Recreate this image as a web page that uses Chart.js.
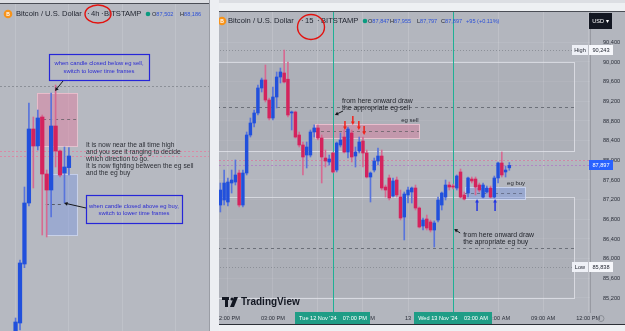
<!DOCTYPE html>
<html>
<head>
<meta charset="utf-8">
<title>BTCUSD 4h / 15m</title>
<script src="https://cdn.jsdelivr.net/npm/chart.js@4.4.1/dist/chart.umd.min.js"></script>
<style>
  body { margin: 0; width: 625px; height: 331px; background: #eef0f3; position: relative; overflow: hidden; }
  canvas { position: absolute; display: block; }
  #leftChart { left: 0; top: 3px; background: #b6b9c1; }
  #rightChart { left: 211px; top: 12px; background: #b3b6be; }
  .strip { position: absolute; }
</style>
</head>
<body>
<div class="strip" style="left:0;top:0;width:625px;height:3px;background:#dcdee3"></div>
<canvas id="leftChart" width="209" height="328"></canvas>
<canvas id="rightChart" width="414" height="312"></canvas>
<div class="strip" style="left:209px;top:0;width:9px;height:331px;background:#eceef2;border-left:1px solid #9a9da5"></div>
<div class="strip" style="left:0;top:3px;width:209px;height:1px;background:#4a4d55"></div>
<div class="strip" style="left:219px;top:11px;width:406px;height:1px;background:#4a4d55"></div>
<div class="strip" style="left:219px;top:324px;width:406px;height:1px;background:#2c2f36"></div>
<script>
/* ---- data: 15m chart (right) ---- */
const rFirstSlot = 2;
const rOpen = [87091,87193,87152,87539,87559,87742,87091,87742,88515,88759,88963,89471,89634,89227,88861,89288,89695,89776,89650,88963,
  88983,88515,88312,88108,88108,88576,88658,88454,88047,87966,88149,87803,88312,88474,88169,88556,88088,88190,88393,88149,
  87661,87803,87986,88088,87457,87641,87274,87600,87254,86847,87295,87356,87437,87030,86664,86807,86746,86583,86786,87091,
  87254,87498,87478,87437,87763,87295,87335,87620,87620,87498,87254,87356,87437,87254,87641,87946,87763,87847];
const rHigh = [87539,87803,87641,87803,88007,87803,87803,88576,88861,89024,89532,89674,89939,89268,89491,89797,89878,90243,90000,89003,
  89003,88576,88373,88373,88617,88719,88719,88515,88210,88108,88169,88373,88556,88617,88678,88617,88271,88474,88474,88210,
  87763,88047,88251,88210,87498,87702,87641,87661,87396,87356,87457,87457,87498,87051,86827,86888,86786,86766,87254,87356,
  87600,87559,87518,87702,87824,87356,87661,87661,87661,87539,87539,87478,87478,87681,87966,88169,87885,87955];
const rLow = [86949,87091,87071,87335,87498,87051,87051,87702,88474,88678,88922,89390,89186,88820,88820,89064,89573,89573,88881,88617,
  88454,88271,87702,87844,88068,88474,88413,87539,87864,87905,87742,87763,88271,88149,88047,87966,87864,88149,87864,87641,
  87152,87763,87905,87396,87254,87193,87254,87254,86786,86380,87132,87132,86990,86624,86583,86583,86542,86237,86746,86990,
  87193,87396,87417,87396,87234,87193,87254,87539,87295,87356,87234,87335,87234,87234,87539,87661,87661,87797];
const rClose = [87396,87539,87559,87600,87702,87091,87742,88515,88759,88963,89471,89634,89227,88861,89288,89695,89797,89593,88922,88983,
  88474,88312,88068,88271,88576,88658,88454,88068,87986,88027,87763,88352,88413,88169,88637,88068,88169,88373,88149,87661,
  87742,87986,88088,87437,87396,87234,87580,87295,86827,87315,87396,87437,87030,86644,86786,86624,86583,86725,87193,87335,
  87498,87457,87457,87681,87254,87213,87641,87580,87457,87396,87498,87437,87254,87641,87946,87702,87803,87897];
const rTickSlots = [4, 16, 28, 40, 52, 64, 76, 88, 100];
const rTickText = ['12:00 PM', '03:00 PM', '06:00 PM', '09:00 PM', '13', '03:00 AM', '06:00 AM', '09:00 AM', '12:00 PM'];
const rPriceTicks = [85200, 85600, 86000, 86400, 86800, 87200, 87600, 88000, 88400, 88800, 89200, 89600, 90000, 90400];
const rYMin = 84915, rYMax = 91017;

/* drawings on the 15m chart: [slotFrom, slotTo, priceTop, priceBottom] */
const rZones = [[-1, 96.3, 90000, 88190], [-1, 96.3, 87254, 85200]];
const rDashLevels = [89085, 86217];
const rHighMark = 90243, rLowMark = 85838, rLastPrice = 87897, rRoundLevel = 88000;
const rSellBox = [27.2, 54.9, 88740, 88454, 88597];
const rBuyBox = [67.2, 83.2, 87457, 87213, 87335];
const rMarkSlots = [32, 64];
const rMarkText = ["Tue 12 Nov '24    07:00 PM", "Wed 13 Nov '24    03:00 AM"];
const rSellArrows = [[35.2, 88617], [37.3, 88719], [38.9, 88617], [40.3, 88515]];
const rBuyArrows = [[70.4, 87213], [75.2, 87213]];
const rNotes = [[34.4, 89207, 'from here onward draw', 'the appropriate eg sell'],
                [66.7, 86481, 'from here onward draw', 'the apropriate eg buy']];
const rNoteArrows = [[34.7, 89004, 32.5, 88922], [65.9, 86522, 64.3, 86603]];
const rBoxNames = [['eg sell', 52.5, 88820], ['eg buy', 80.8, 87539]];

/* ---- data: 4h chart (left) ---- */
const lFirstSlot = 3;
const lOpen  = [81800, 82219, 84225, 86299, 88815, 88237, 89223, 87285, 86741, 88917, 88067, 87319, 87502];
const lHigh  = [82389, 84361, 86843, 89699, 89223, 89461, 89291, 87421, 90039, 90311, 88101, 88203, 88186];
const lLow   = [81600, 81981, 84100, 86200, 86809, 88101, 85211, 85143, 85823, 87523, 87183, 86299, 87251];
const lClose = [82253, 84259, 86299, 88815, 88237, 89189, 87285, 86741, 88917, 88067, 87251, 87523, 87897];
const lYMin = 81947, lYMax = 93099;
const lSellZone = [7.8, 16.8, 90039, 88237];
const lBuyZone = [9.8, 16.8, 87285, 85211];
const lSellMid = [9.2, 16.8, 89155];
const lBuyMid = [9.8, 13.4, 86265];
const lPinkLevels = [88060, 87897];
const lTopLevel = 90277;
const lGridSlots = [3, 15, 27, 39];

const FONT = '"Liberation Sans", Arial, sans-serif';
const BLUE = '#2150dc', PINK = '#d4235d', BLUE_W = '#5874dc', PINK_W = '#d66a92';

function slotLabels(startMs, stepMin, count) {
  const out = [];
  for (let i = 0; i < count; i++) {
    out.push(new Date(startMs + i * stepMin * 60000).toISOString().slice(0, 16).replace('T', ' '));
  }
  return out;
}
const rSlots = slotLabels(Date.UTC(2024, 10, 12, 11, 0), 15, 101);
const lSlots = slotLabels(Date.UTC(2024, 10, 10, 16, 0), 240, 47);

function candleSets(open, high, low, close, slots, first, bodyW) {
  const bodies = [], wicks = [], bodyCol = [], wickCol = [];
  for (let k = 0; k < open.length; k++) {
    const x = slots[first + k];
    const up = close[k] >= open[k];
    bodies.push({x: x, y: [open[k], close[k]]});
    wicks.push({x: x, y: [low[k], high[k]]});
    bodyCol.push(up ? BLUE : PINK);
    wickCol.push(up ? BLUE_W : PINK_W);
  }
  return [
    {data: wicks, backgroundColor: wickCol, barThickness: 1, grouped: false, order: 2},
    {data: bodies, backgroundColor: bodyCol, barThickness: bodyW, grouped: false, minBarLength: 1, order: 1}
  ];
}

function label(ctx, s, x, y, size, color, align, weight) {
  ctx.font = (weight || 'normal') + ' ' + size + 'px ' + FONT;
  ctx.fillStyle = color;
  ctx.textAlign = align || 'left';
  ctx.textBaseline = 'middle';
  ctx.fillText(s, x, y);
  return ctx.measureText(s).width;
}
function hline(ctx, x0, x1, yy, color, dash) {
  ctx.save();
  ctx.strokeStyle = color; ctx.lineWidth = 1; ctx.setLineDash(dash || []);
  ctx.beginPath(); ctx.moveTo(x0, Math.round(yy) + 0.5); ctx.lineTo(x1, Math.round(yy) + 0.5); ctx.stroke();
  ctx.restore();
}
function vline(ctx, xx, y0, y1, color) {
  ctx.save();
  ctx.strokeStyle = color; ctx.lineWidth = 1;
  ctx.beginPath(); ctx.moveTo(Math.round(xx) + 0.5, y0); ctx.lineTo(Math.round(xx) + 0.5, y1); ctx.stroke();
  ctx.restore();
}
function box(ctx, x0, x1, y0, y1, fill, stroke) {
  ctx.fillStyle = fill;
  ctx.fillRect(x0, y0, x1 - x0, y1 - y0);
  ctx.strokeStyle = stroke; ctx.lineWidth = 1; ctx.setLineDash([]);
  ctx.strokeRect(Math.round(x0) + 0.5, Math.round(y0) + 0.5, Math.round(x1 - x0), Math.round(y1 - y0));
}
function arrow(ctx, x0, y0, x1, y1, color, w, head) {
  const ang = Math.atan2(y1 - y0, x1 - x0);
  ctx.save();
  ctx.strokeStyle = color; ctx.fillStyle = color; ctx.lineWidth = w; ctx.setLineDash([]);
  ctx.beginPath(); ctx.moveTo(x0, y0);
  ctx.lineTo(x1 - Math.cos(ang) * head * 0.7, y1 - Math.sin(ang) * head * 0.7); ctx.stroke();
  ctx.beginPath(); ctx.moveTo(x1, y1);
  ctx.lineTo(x1 - head * Math.cos(ang - 0.5), y1 - head * Math.sin(ang - 0.5));
  ctx.lineTo(x1 - head * Math.cos(ang + 0.5), y1 - head * Math.sin(ang + 0.5));
  ctx.closePath(); ctx.fill();
  ctx.restore();
}
function ellipse(ctx, cx, cy, rx, ry) {
  ctx.save();
  ctx.strokeStyle = '#e3120f'; ctx.lineWidth = 1.4;
  ctx.beginPath(); ctx.ellipse(cx, cy, rx, ry, 0, 0, Math.PI * 2); ctx.stroke();
  ctx.restore();
}
function coin(ctx, x, y) {
  ctx.fillStyle = '#f7931a';
  ctx.beginPath(); ctx.arc(x, y, 4.3, 0, Math.PI * 2); ctx.fill();
  label(ctx, 'B', x, y + 0.3, 5, '#ffffff', 'center', 'bold');
}
function ohlc(ctx, x, y, parts) {
  parts.forEach(p => {
    let cx = p[0];
    cx += label(ctx, p[1], cx, y, 5.6, '#1e222d');
    label(ctx, p[2], cx, y, 5.6, '#2c50d6');
  });
}

/* ---- overlays on the 15m chart ---- */
const rightOverlay = {
  id: 'rightOverlay',
  beforeDatasetsDraw(chart) {
    const {ctx, chartArea: a} = chart;
    const X = v => chart.scales.x.getPixelForValue(v);
    const Y = v => chart.scales.y.getPixelForValue(v);
    ctx.save();
    ctx.beginPath(); ctx.rect(a.left, a.top, a.width, a.height); ctx.clip();
    rZones.forEach(z => box(ctx, X(z[0]), X(z[1]), Y(z[2]), Y(z[3]), 'rgba(140,144,153,0.16)', 'rgba(228,230,236,0.75)'));
    rDashLevels.forEach(p => hline(ctx, a.left, X(rZones[0][1]), Y(p), '#6c7079', [3, 3]));
    hline(ctx, a.left, a.right, Y(rHighMark), '#8c9098', [1, 2]);
    hline(ctx, a.left, a.right, Y(rLowMark), '#8c9098', [1, 2]);
    hline(ctx, a.left, a.right, Y(rRoundLevel), '#cf86a4', [2, 2]);
    hline(ctx, a.left, a.right, Y(rLastPrice), '#b087c4', [2, 2]);
    box(ctx, X(rSellBox[0]), X(rSellBox[1]), Y(rSellBox[2]), Y(rSellBox[3]), 'rgba(232,112,152,0.38)', 'rgba(240,196,210,0.85)');
    hline(ctx, X(rSellBox[0]), X(rSellBox[1]), Y(rSellBox[4]), '#7a6c76', [3, 3]);
    box(ctx, X(rBuyBox[0]), X(rBuyBox[1]), Y(rBuyBox[2]), Y(rBuyBox[3]), 'rgba(110,145,232,0.38)', 'rgba(205,215,242,0.85)');
    hline(ctx, X(rBuyBox[0]), X(rBuyBox[1]), Y(rBuyBox[4]), '#6a7390', [3, 3]);
    rMarkSlots.forEach(s => vline(ctx, X(s), a.top, a.bottom, '#1fb095'));
    ctx.restore();
  },
  afterDatasetsDraw(chart) {
    const {ctx} = chart;
    const X = v => chart.scales.x.getPixelForValue(v);
    const Y = v => chart.scales.y.getPixelForValue(v);
    rSellArrows.forEach(t => arrow(ctx, X(t[0]), Y(t[1]) - 9, X(t[0]), Y(t[1]), '#f2221b', 1.5, 4));
    rBuyArrows.forEach(t => arrow(ctx, X(t[0]), Y(t[1]) + 12, X(t[0]), Y(t[1]), '#2336e2', 1.5, 4));
    rNotes.forEach(n => {
      label(ctx, n[2], X(n[0]), Y(n[1]), 6.9, '#1f2228');
      label(ctx, n[3], X(n[0]), Y(n[1]) + 7, 6.9, '#1f2228');
    });
    rNoteArrows.forEach(r => arrow(ctx, X(r[0]), Y(r[1]), X(r[2]), Y(r[3]), '#15171c', 1, 4));
    rBoxNames.forEach(b => label(ctx, b[0], X(b[1]), Y(b[2]), 6, '#25282f', 'center'));
  },
  afterDraw(chart) {
    const {ctx, chartArea: a} = chart;
    const X = v => chart.scales.x.getPixelForValue(v);
    const Y = v => chart.scales.y.getPixelForValue(v);
    // time labels of the two marked candles
    rMarkSlots.forEach((s, i) => {
      const w = i ? 78 : 75;
      ctx.fillStyle = '#1f9d86';
      ctx.fillRect(Math.round(X(s) - w / 2), a.bottom, w, 12);
      label(ctx, rMarkText[i], X(s), a.bottom + 6.5, 5.6, '#ffffff', 'center');
    });
    // price scale badges
    const bx = a.right - 1;
    [[rHighMark, 'High'], [rLowMark, 'Low']].forEach(m => {
      const yy = Math.round(Y(m[0]));
      ctx.fillStyle = '#eef0f6'; ctx.fillRect(bx - 17, yy - 5, 16, 10);
      ctx.fillStyle = '#f6f7fb'; ctx.fillRect(bx, yy - 5, 24, 10);
      label(ctx, m[1], bx - 9, yy, 5.6, '#1e222d', 'center');
      label(ctx, m[0].toLocaleString('en-US'), bx + 12, yy, 5.6, '#1e222d', 'center');
    });
    const ly = Math.round(Y(rLastPrice));
    ctx.fillStyle = '#2962ff'; ctx.fillRect(bx, ly - 5, 24, 10);
    label(ctx, rLastPrice.toLocaleString('en-US'), bx + 12, ly, 5.6, '#ffffff', 'center');
    ctx.fillStyle = '#131722'; ctx.fillRect(bx, 1, 23, 16);
    label(ctx, 'USD \u25BE', bx + 11.5, 9, 5.6, '#ffffff', 'center');
    ctx.strokeStyle = '#8a8e96'; ctx.lineWidth = 1;
    ctx.beginPath(); ctx.arc(bx + 12, a.bottom + 6.5, 3, 0, Math.PI * 2); ctx.stroke();
    // header
    coin(ctx, 11, 9);
    label(ctx, 'Bitcoin / U.S. Dollar', 17, 9, 7.6, '#1e222d');
    label(ctx, '\u00B7', 90, 9, 7.6, '#1e222d');
    label(ctx, '15', 94, 9, 7.6, '#1e222d');
    label(ctx, '\u00B7', 106, 9, 7.6, '#1e222d');
    label(ctx, 'BITSTAMP', 110, 9, 7.6, '#1e222d');
    ctx.fillStyle = '#0a9b80';
    ctx.beginPath(); ctx.arc(154, 9, 2.3, 0, Math.PI * 2); ctx.fill();
    ohlc(ctx, 0, 9, [[157, 'O', '87,847'], [179, 'H', '87,955'], [206, 'L', '87,797'], [230, 'C', '87,897']]);
    label(ctx, '+95 (+0.11%)', 255, 9, 5.6, '#2c50d6');
    ellipse(ctx, 100, 15, 13.5, 12.5);
    // watermark logo
    ctx.fillStyle = '#131722';
    ctx.fillRect(11, 285, 7, 3);
    ctx.fillRect(14, 288, 3, 7);
    ctx.beginPath(); ctx.arc(21, 287, 1.6, 0, Math.PI * 2); ctx.fill();
    ctx.beginPath(); ctx.moveTo(23, 285); ctx.lineTo(27, 285); ctx.lineTo(23, 295); ctx.lineTo(19, 295); ctx.closePath(); ctx.fill();
    label(ctx, 'TradingView', 30, 290.5, 10, '#131722', 'left', 'bold');
  }
};

/* ---- overlays on the 4h chart ---- */
const leftOverlay = {
  id: 'leftOverlay',
  beforeDatasetsDraw(chart) {
    const {ctx, chartArea: a} = chart;
    const X = v => chart.scales.x.getPixelForValue(v);
    const Y = v => chart.scales.y.getPixelForValue(v);
    ctx.save();
    hline(ctx, a.left, a.right, Y(lTopLevel), '#8c9098', [2, 2]);
    lPinkLevels.forEach(p => hline(ctx, a.left, a.right, Y(p), '#d98aa6', [2, 2]));
    box(ctx, X(lSellZone[0]), X(lSellZone[1]), Y(lSellZone[2]), Y(lSellZone[3]), 'rgba(232,112,152,0.40)', 'rgba(240,196,210,0.8)');
    box(ctx, X(lBuyZone[0]), X(lBuyZone[1]), Y(lBuyZone[2]), Y(lBuyZone[3]), 'rgba(110,145,232,0.36)', 'rgba(205,215,242,0.8)');
    hline(ctx, X(lSellMid[0]), X(lSellMid[1]), Y(lSellMid[2]), '#7a6c76', [3, 3]);
    hline(ctx, X(lBuyMid[0]), X(lBuyMid[1]), Y(lBuyMid[2]), '#555a66', [3, 3]);
    ctx.restore();
  },
  afterDatasetsDraw(chart) {
    const {ctx} = chart;
    // callout 1
    ctx.strokeStyle = '#2626d8'; ctx.lineWidth = 1.2;
    ctx.strokeRect(49.5, 51.5, 100, 26);
    label(ctx, 'when candle closed below eg sell,', 99, 60, 5.9, '#2b2bd2', 'center');
    label(ctx, 'switch to lower time frames', 99, 68, 5.9, '#2b2bd2', 'center');
    arrow(ctx, 63, 78, 55, 88, '#15171c', 1, 4);
    // remarks
    const notes = ['It is now near the all time high', 'and you see it ranging to decide',
      'which direction to go.', 'It is now fighting between the eg sell', 'and the eg buy'];
    notes.forEach((s, i) => label(ctx, s, 86, 142 + i * 7, 6.7, '#2c2f36'));
    // callout 2
    ctx.strokeStyle = '#2626d8'; ctx.lineWidth = 1.2;
    ctx.strokeRect(86.5, 192.5, 96, 28);
    label(ctx, 'when candle closed above eg buy,', 134, 203, 5.9, '#2b2bd2', 'center');
    label(ctx, 'switch to lower time frames', 134, 210, 5.9, '#2b2bd2', 'center');
    arrow(ctx, 86, 205, 64, 200, '#15171c', 1, 4);
  },
  afterDraw(chart) {
    const {ctx} = chart;
    coin(ctx, 8, 11);
    label(ctx, 'Bitcoin / U.S. Dollar', 16, 11, 7.6, '#1e222d');
    label(ctx, '\u00B7', 87, 11, 7.6, '#1e222d');
    label(ctx, '4h', 91, 11, 7.6, '#1e222d');
    label(ctx, '\u00B7', 101, 11, 7.6, '#1e222d');
    label(ctx, 'BITSTAMP', 104, 11, 7.6, '#1e222d');
    ctx.fillStyle = '#0a9b80';
    ctx.beginPath(); ctx.arc(148, 11, 2.3, 0, Math.PI * 2); ctx.fill();
    ohlc(ctx, 0, 11, [[152, 'O', '87,502'], [180, 'H', '88,186']]);
    ellipse(ctx, 98, 11, 13, 9);
  }
};

new Chart(document.getElementById('rightChart'), {
  type: 'bar',
  data: { labels: rSlots, datasets: candleSets(rOpen, rHigh, rLow, rClose, rSlots, rFirstSlot, 2.8) },
  options: {
    responsive: false,
    animation: false,
    layout: { padding: 0 },
    plugins: { legend: { display: false }, tooltip: { enabled: false } },
    scales: {
      x: {
        offset: true,
        grid: { offset: false, drawTicks: false, color: c => rTickSlots.includes(c.index) ? 'rgba(255,255,255,0.14)' : 'transparent' },
        border: { display: false },
        ticks: {
          autoSkip: false, maxRotation: 0, minRotation: 0, padding: 3,
          color: '#2a2e39', font: { size: 5.6, family: FONT },
          callback: (v, i) => { const k = rTickSlots.indexOf(i); return k < 0 ? '' : rTickText[k]; }
        },
        afterFit: s => { s.height = 12; s.paddingLeft = 0; s.paddingRight = 0; }
      },
      y: {
        position: 'right', min: rYMin, max: rYMax,
        grid: { color: 'rgba(255,255,255,0.07)', drawTicks: false },
        border: { color: 'rgba(70,73,80,0.25)' },
        ticks: {
          padding: 13,
          color: '#2a2e39', font: { size: 5.6, family: FONT },
          callback: v => v.toLocaleString('en-US')
        },
        afterBuildTicks: s => { s.ticks = rPriceTicks.map(v => ({ value: v })); },
        afterFit: s => { s.width = 35; s.paddingTop = 0; s.paddingBottom = 0; }
      }
    }
  },
  plugins: [rightOverlay]
});

new Chart(document.getElementById('leftChart'), {
  type: 'bar',
  data: { labels: lSlots, datasets: candleSets(lOpen, lHigh, lLow, lClose, lSlots, lFirstSlot, 3.6) },
  options: {
    responsive: false,
    animation: false,
    layout: { padding: 0 },
    plugins: { legend: { display: false }, tooltip: { enabled: false } },
    scales: {
      x: {
        offset: true,
        grid: { offset: false, drawTicks: false, color: c => lGridSlots.includes(c.index) ? 'rgba(255,255,255,0.12)' : 'transparent' },
        border: { display: false },
        ticks: { display: false },
        afterFit: s => { s.height = 0; s.paddingLeft = 0; s.paddingRight = 0; }
      },
      y: { display: false, min: lYMin, max: lYMax }
    }
  },
  plugins: [leftOverlay]
});
</script>
</body>
</html>
